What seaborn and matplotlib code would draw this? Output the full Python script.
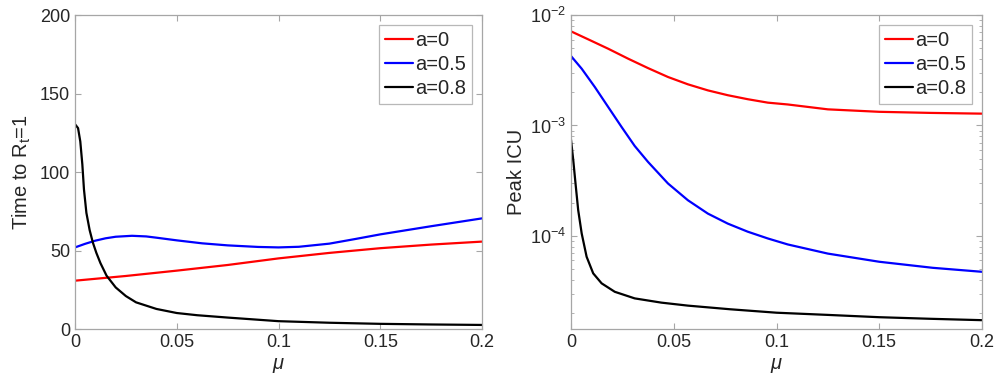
import numpy as np
import pandas as pd
import matplotlib
matplotlib.use("Agg")
import matplotlib.pyplot as plt
import seaborn as sns
from matplotlib.ticker import LogLocator, NullFormatter, FixedLocator

# ---- data ----
# left panel: time to R_t = 1
mu_red_l = [0, 0.025, 0.05, 0.075, 0.1, 0.125, 0.15, 0.175, 0.2]
t_red = [30.8, 33.8, 37.2, 40.8, 45.0, 48.5, 51.5, 53.8, 55.7]

mu_blue_l = [0, 0.005, 0.01, 0.015, 0.02, 0.028, 0.035, 0.04, 0.05, 0.0625,
             0.075, 0.09, 0.1, 0.11, 0.125, 0.1375, 0.15, 0.175, 0.2]
t_blue = [52.0, 54.3, 56.3, 57.8, 58.8, 59.4, 59.0, 58.2, 56.5, 54.6,
          53.3, 52.3, 52.0, 52.4, 54.4, 57.3, 60.3, 65.5, 70.5]

mu_black_l = [0, 0.0015, 0.0026, 0.0036, 0.0044, 0.0056, 0.0072, 0.0088, 0.0105,
              0.0125, 0.0155, 0.02, 0.025, 0.03, 0.04, 0.05, 0.06, 0.075, 0.1,
              0.125, 0.15, 0.175, 0.2]
t_black = [130.5, 128, 119.5, 105, 89, 74, 63, 55, 48.5,
           42, 34, 26.5, 21, 17, 12.8, 10.2, 8.8, 7.3, 5,
           4, 3.3, 2.9, 2.6]

# right panel: peak ICU (log scale)
mu_red_r = [0, 0.0084, 0.0181, 0.0278, 0.0375, 0.0472, 0.0569, 0.0666, 0.0763,
            0.086, 0.0958, 0.1055, 0.125, 0.15, 0.175, 0.2]
icu_red = [7.13e-3, 6.03e-3, 4.96e-3, 4.03e-3, 3.31e-3, 2.75e-3, 2.36e-3, 2.08e-3,
           1.88e-3, 1.73e-3, 1.61e-3, 1.55e-3, 1.40e-3, 1.33e-3, 1.30e-3, 1.28e-3]

mu_blue_r = [0, 0.0052, 0.0116, 0.0181, 0.0246, 0.031, 0.0375, 0.0472, 0.0569,
             0.0666, 0.0763, 0.086, 0.0958, 0.1055, 0.125, 0.15, 0.176, 0.2]
icu_blue = [4.26e-3, 3.27e-3, 2.23e-3, 1.47e-3, 9.7e-4, 6.52e-4, 4.67e-4, 2.98e-4,
            2.1e-4, 1.59e-4, 1.29e-4, 1.09e-4, 9.46e-5, 8.35e-5, 6.9e-5, 5.82e-5,
            5.13e-5, 4.72e-5]

mu_black_r = [0, 0.0011, 0.0022, 0.0035, 0.0052, 0.0076, 0.0108, 0.0149, 0.0213,
              0.031, 0.044, 0.0569, 0.0774, 0.1, 0.125, 0.15, 0.175, 0.2]
icu_black = [7.44e-4, 4.84e-4, 2.98e-4, 1.71e-4, 1.05e-4, 6.46e-5, 4.57e-5, 3.71e-5,
             3.11e-5, 2.71e-5, 2.48e-5, 2.33e-5, 2.16e-5, 2.01e-5, 1.92e-5, 1.83e-5,
             1.77e-5, 1.72e-5]

labels = ["a=0", "a=0.5", "a=0.8"]
palette = {"a=0": "#ff0000", "a=0.5": "#0000ff", "a=0.8": "#000000"}


def long_df(xs, ys):
    parts = []
    for lab, x, y in zip(labels, xs, ys):
        parts.append(pd.DataFrame({"mu": x, "val": y, "a": lab}))
    return pd.concat(parts, ignore_index=True)


df_left = long_df([mu_red_l, mu_blue_l, mu_black_l], [t_red, t_blue, t_black])
df_right = long_df([mu_red_r, mu_blue_r, mu_black_r], [icu_red, icu_blue, icu_black])

sns.set_style("white")
plt.rcParams["font.family"] = ["Liberation Sans", "DejaVu Sans"]
plt.rcParams["mathtext.fontset"] = "custom"
plt.rcParams["mathtext.rm"] = "Liberation Sans"
plt.rcParams["mathtext.it"] = "Liberation Sans:italic"
plt.rcParams["mathtext.default"] = "regular"

fig = plt.figure(figsize=(10, 3.88), dpi=100)
ax1 = fig.add_axes([0.075, 0.152, 0.407, 0.809])
ax2 = fig.add_axes([0.571, 0.152, 0.411, 0.809])

sns.lineplot(data=df_left, x="mu", y="val", hue="a", palette=palette,
             hue_order=labels, lw=1.6, ax=ax1, sort=False, estimator=None)
sns.lineplot(data=df_right, x="mu", y="val", hue="a", palette=palette,
             hue_order=labels, lw=1.6, ax=ax2, sort=False, estimator=None)

ax1.set_xlim(0, 0.2)
ax1.set_ylim(0, 200)
ax1.set_xticks([0, 0.05, 0.1, 0.15, 0.2])
ax1.set_xticklabels(["0", "0.05", "0.1", "0.15", "0.2"])
ax1.set_yticks([0, 50, 100, 150, 200])
ax1.set_ylabel("Time to R$_t$=1", fontsize=14.5)

ax2.set_yscale("log")
ax2.set_xlim(0, 0.2)
ax2.set_ylim(1.43e-5, 1e-2)
ax2.set_xticks([0, 0.05, 0.1, 0.15, 0.2])
ax2.set_xticklabels(["0", "0.05", "0.1", "0.15", "0.2"])
ax2.yaxis.set_major_locator(FixedLocator([1e-4, 1e-3, 1e-2]))
ax2.set_yticklabels(["$10^{-4}$", "$10^{-3}$", "$10^{-2}$"])
ax2.yaxis.set_minor_locator(LogLocator(base=10, subs=np.arange(2, 10)))
ax2.yaxis.set_minor_formatter(NullFormatter())
ax2.set_ylabel("Peak ICU", fontsize=14.5)

for ax in (ax1, ax2):
    ax.set_xlabel(r"$\mathit{\mu}$", fontsize=14.5)
    for s in ax.spines.values():
        s.set_visible(True)
        s.set_color("#a6a6a6")
        s.set_linewidth(0.9)
    ax.tick_params(axis="both", which="both", direction="in", top=True, right=True,
                   bottom=True, left=True,
                   color="#a6a6a6", labelsize=13, labelcolor="#262626")
    ax.tick_params(which="major", length=4)
    ax.tick_params(which="minor", length=2.5)
    leg = ax.legend(loc="upper right", fontsize=14.5, frameon=True, fancybox=False,
                    edgecolor="#a6a6a6", handlelength=1.4, handletextpad=0.1,
                    borderpad=0.3, labelspacing=0.25, borderaxespad=0.5)
    leg.get_frame().set_linewidth(0.9)
    ax.grid(False)

ax1.yaxis.set_label_coords(-0.103, 0.5)
ax2.yaxis.set_label_coords(-0.11, 0.5)

fig.savefig("out.png", dpi=100)
